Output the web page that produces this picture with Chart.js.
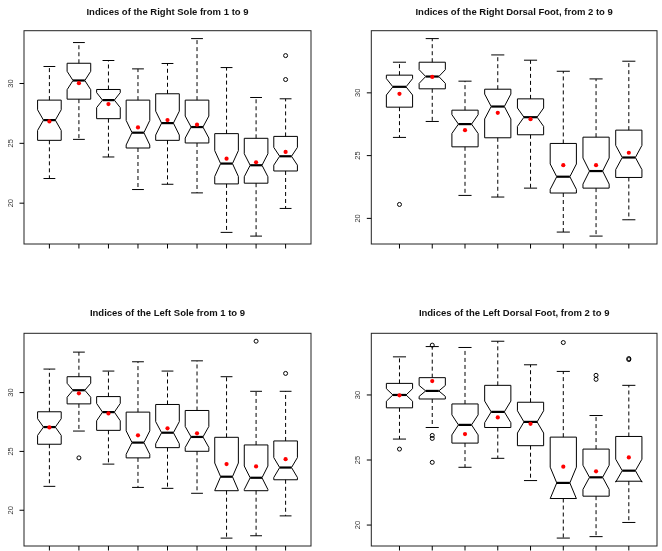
<!DOCTYPE html>
<html>
<head>
<meta charset="utf-8">
<script src="https://cdn.jsdelivr.net/npm/chart.js@4.4.0/dist/chart.umd.min.js"></script>
<style>
	body { margin: 0; background: #fff; }
	canvas { position: absolute; }
</style>
</head>
<body>
<canvas id="rightSole" style="left:0;top:0" width="331" height="275"></canvas>
<canvas id="rightDorsal" style="left:331px;top:0" width="331" height="275"></canvas>
<canvas id="leftSole" style="left:0;top:275px" width="331" height="276"></canvas>
<canvas id="leftDorsal" style="left:331px;top:275px" width="331" height="276"></canvas>
<script>
// right sole, indices 1 to 9
const rightSoleCats = ['1', '2', '3', '4', '5', '6', '7', '8', '9']
const rightSoleLo = [22.06, 25.33, 23.86, 21.14, 21.58, 20.86, 17.56, 17.25, 19.56]
const rightSoleQ1 = [25.25, 28.69, 27.06, 24.61, 25.25, 25.03, 21.61, 21.67, 22.69]
const rightSoleMed = [26.94, 30.25, 28.61, 25.89, 26.69, 26.36, 23.31, 23.17, 23.92]
const rightSoleQ3 = [28.61, 31.69, 29.5, 28.61, 29.14, 28.61, 25.81, 25.42, 25.58]
const rightSoleHi = [31.42, 33.42, 31.92, 31.22, 31.67, 33.75, 31.33, 28.83, 28.72]
const rightSoleMean = [26.83, 30.03, 28.28, 26.33, 26.94, 26.56, 23.72, 23.42, 24.28]
const rightSoleOut = [[9, 30.33], [9, 32.33]]

// right dorsal foot, indices 2 to 9
const rightDorsalCats = ['2', '3', '4', '5', '6', '7', '8', '9']
const rightDorsalLo = [26.45, 27.72, 21.83, 21.7, 22.41, 18.91, 18.59, 19.89]
const rightDorsalQ1 = [28.86, 30.32, 25.7, 26.42, 26.66, 22.02, 22.41, 23.26]
const rightDorsalMed = [30.48, 31.3, 27.51, 28.91, 28.06, 23.32, 23.77, 24.85]
const rightDorsalQ3 = [31.41, 32.44, 28.62, 30.29, 29.52, 25.97, 26.47, 27.03]
const rightDorsalHi = [32.44, 34.32, 30.93, 33.02, 32.6, 31.72, 31.11, 32.52]
const rightDorsalMean = [29.92, 31.27, 27.03, 28.41, 27.9, 24.24, 24.24, 25.23]
const rightDorsalOut = [[1, 21.11]]

// left sole, indices 1 to 9
const leftSoleCats = ['1', '2', '3', '4', '5', '6', '7', '8', '9']
const leftSoleLo = [22.03, 26.73, 23.92, 21.94, 21.86, 21.44, 17.63, 17.83, 19.52]
const leftSoleQ1 = [25.61, 29.04, 26.79, 24.45, 25.32, 25.01, 21.66, 21.66, 22.59]
const leftSoleMed = [27.07, 30.2, 28.34, 25.75, 26.59, 26.23, 22.85, 22.76, 23.63]
const leftSoleQ3 = [28.37, 31.35, 29.66, 28.34, 28.99, 28.48, 26.2, 25.55, 25.89]
const leftSoleHi = [32.0, 33.44, 31.83, 32.62, 31.83, 32.7, 31.35, 30.11, 30.11]
const leftSoleMean = [27.04, 29.94, 28.23, 26.37, 26.96, 26.54, 23.92, 23.72, 24.34]
const leftSoleOut = [[2, 24.45], [8, 34.37], [9, 31.63]]

// left dorsal foot, indices 2 to 9
const leftDorsalCats = ['2', '3', '4', '5', '6', '7', '8', '9']
const leftDorsalLo = [26.61, 27.5, 24.44, 25.13, 23.42, 19.0, 19.11, 20.2]
const leftDorsalQ1 = [29.01, 29.69, 26.3, 27.5, 26.1, 22.04, 22.22, 23.37]
const leftDorsalMed = [30.0, 30.31, 27.7, 28.7, 27.93, 23.24, 23.67, 24.18]
const leftDorsalQ3 = [30.89, 31.33, 29.31, 30.74, 29.44, 26.76, 25.84, 26.81]
const leftDorsalHi = [32.93, 33.72, 33.65, 34.13, 32.32, 31.81, 28.42, 30.74]
const leftDorsalMean = [29.97, 31.07, 26.99, 28.27, 27.78, 24.49, 24.13, 25.2]
const leftDorsalOut = [[1, 25.84], [2, 33.83], [2, 26.89], [2, 26.66], [2, 24.82], [6, 34.03], [7, 31.51], [7, 31.2], [8, 32.72], [8, 32.8]]

const yTicks = [20, 25, 30]

// sample size per box, used for the notch (median +- 1.58 IQR / sqrt(n))
const SAMPLE_N = 38
const FONT = '"Liberation Sans", Arial, Helvetica, sans-serif'

// notched boxes, whiskers and staples
const boxPlugin = {
	id: 'notchedBoxes',
	beforeDatasetsDraw(chart, args, opts) {
		const ctx = chart.ctx
		const px = v => chart.scales.x.getPixelForValue(v)
		const py = v => chart.scales.y.getPixelForValue(v)
		const s = opts.stats
		const seg = (x1, y1, x2, y2) => {
			ctx.beginPath()
			ctx.moveTo(px(x1), py(y1))
			ctx.lineTo(px(x2), py(y2))
			ctx.stroke()
		}
		ctx.save()
		ctx.strokeStyle = '#000'
		for (let i = 0; i < s.med.length; i++) {
			const c = i + 1
			const w = 0.4
			const half = 1.58 * (s.q3[i] - s.q1[i]) / Math.sqrt(SAMPLE_N)
			const nLo = s.med[i] - half
			const nHi = s.med[i] + half
			// whiskers
			ctx.lineWidth = 1
			ctx.setLineDash([4, 3])
			seg(c, s.q3[i], c, s.hi[i])
			seg(c, s.q1[i], c, s.lo[i])
			ctx.setLineDash([])
			// staples
			seg(c - w / 2, s.hi[i], c + w / 2, s.hi[i])
			seg(c - w / 2, s.lo[i], c + w / 2, s.lo[i])
			// box
			const pts = [
				[c - w, s.q1[i]], [c - w, nLo], [c - w / 2, s.med[i]], [c - w, nHi], [c - w, s.q3[i]],
				[c + w, s.q3[i]], [c + w, nHi], [c + w / 2, s.med[i]], [c + w, nLo], [c + w, s.q1[i]]
			]
			ctx.beginPath()
			pts.forEach((p, k) => {
				if (k === 0) ctx.moveTo(px(p[0]), py(p[1]))
				else ctx.lineTo(px(p[0]), py(p[1]))
			})
			ctx.closePath()
			ctx.stroke()
			// median
			ctx.lineWidth = 2.2
			seg(c - w / 2, s.med[i], c + w / 2, s.med[i])
		}
		ctx.restore()
	}
}

// R style frame, ticks and rotated tick labels
const framePlugin = {
	id: 'rFrame',
	afterDraw(chart, args, opts) {
		const ctx = chart.ctx
		const a = chart.chartArea
		const xs = chart.scales.x
		const ys = chart.scales.y
		ctx.save()
		ctx.strokeStyle = '#222'
		ctx.lineWidth = 1
		ctx.strokeRect(a.left, a.top, a.right - a.left, a.bottom - a.top)
		ctx.strokeStyle = '#000'
		for (let i = 1; i <= opts.count; i++) {
			const x = xs.getPixelForValue(i)
			ctx.beginPath()
			ctx.moveTo(x, a.bottom)
			ctx.lineTo(x, a.bottom + 4.5)
			ctx.stroke()
		}
		ctx.fillStyle = '#333'
		ctx.font = '7.5px ' + FONT
		ctx.textAlign = 'center'
		ctx.textBaseline = 'middle'
		yTicks.forEach(t => {
			const y = ys.getPixelForValue(t)
			ctx.beginPath()
			ctx.moveTo(a.left, y)
			ctx.lineTo(a.left - 4.5, y)
			ctx.stroke()
			ctx.save()
			ctx.translate(a.left - 13, y)
			ctx.rotate(-Math.PI / 2)
			ctx.fillText(String(t), 0, 0)
			ctx.restore()
		})
		ctx.restore()
	}
}

function drawPanel(id, cats, lo, q1, med, q3, hi, mean, out, title, yMin, yMax, pad, titlePad) {
	const n = cats.length
	return new Chart(document.getElementById(id), {
		type: 'scatter',
		data: {
			datasets: [
				{
					data: mean.map((v, i) => ({ x: i + 1, y: v })),
					pointRadius: 2.1,
					backgroundColor: '#f00',
					borderColor: '#f00',
					borderWidth: 0
				},
				{
					data: out.map(o => ({ x: o[0], y: o[1] })),
					pointRadius: 2,
					backgroundColor: 'rgba(0,0,0,0)',
					borderColor: '#000',
					borderWidth: 1
				}
			]
		},
		options: {
			responsive: false,
			animation: false,
			events: [],
			layout: { padding: pad },
			scales: {
				x: { display: false, min: 0.14, max: n + 0.86 },
				y: { display: false, min: yMin, max: yMax }
			},
			plugins: {
				legend: { display: false },
				tooltip: { enabled: false },
				title: {
					display: true,
					text: title,
					color: '#111',
					font: { family: FONT, size: 9.5, weight: 'bold' },
					padding: titlePad
				},
				notchedBoxes: { stats: { lo, q1, med, q3, hi } },
				rFrame: { count: n }
			}
		},
		plugins: [boxPlugin, framePlugin]
	})
}

drawPanel('rightSole', rightSoleCats, rightSoleLo, rightSoleQ1, rightSoleMed, rightSoleQ3, rightSoleHi, rightSoleMean, rightSoleOut,
	'Indices of the Right Sole from 1 to 9', 16.59, 34.41,
	{ left: 24, right: 20, top: 0, bottom: 31 }, { top: 6.6, bottom: 12.7 })

drawPanel('rightDorsal', rightDorsalCats, rightDorsalLo, rightDorsalQ1, rightDorsalMed, rightDorsalQ3, rightDorsalHi, rightDorsalMean, rightDorsalOut,
	'Indices of the Right Dorsal Foot, from 2 to 9', 17.96, 34.95,
	{ left: 40.3, right: 5, top: 0, bottom: 31 }, { top: 6.6, bottom: 12.7 })

drawPanel('leftSole', leftSoleCats, leftSoleLo, leftSoleQ1, leftSoleMed, leftSoleQ3, leftSoleHi, leftSoleMean, leftSoleOut,
	'Indices of the Left Sole from 1 to 9', 16.96, 35.04,
	{ left: 24, right: 20, top: 0, bottom: 4.3 }, { top: 32.6, bottom: 14.3 })

drawPanel('leftDorsal', leftDorsalCats, leftDorsalLo, leftDorsalQ1, leftDorsalMed, leftDorsalQ3, leftDorsalHi, leftDorsalMean, leftDorsalOut,
	'Indices of the Left Dorsal Foot, from 2 to 9', 18.39, 34.74,
	{ left: 40.3, right: 5, top: 0, bottom: 4.3 }, { top: 32.6, bottom: 14.3 })
</script>
</body>
</html>
